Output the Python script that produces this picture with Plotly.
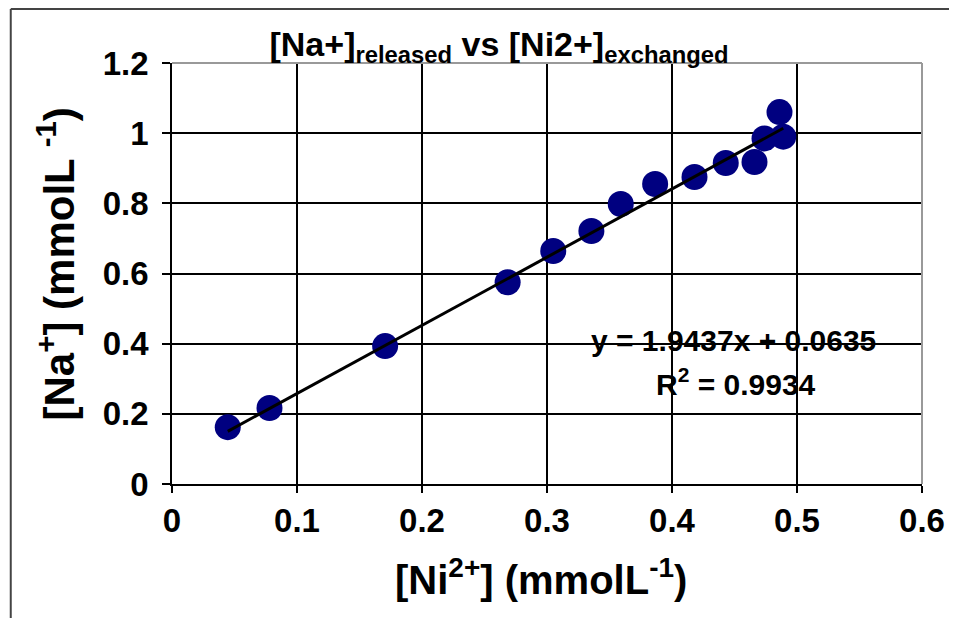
import plotly.graph_objects as go

ni_exchanged = [0.0446, 0.078, 0.1705, 0.2685, 0.305, 0.3355, 0.359, 0.3865, 0.418, 0.443, 0.466, 0.474, 0.486, 0.489]
na_released = [0.162, 0.2165, 0.393, 0.575, 0.664, 0.721, 0.798, 0.855, 0.875, 0.915, 0.918, 0.985, 1.06, 0.99]
slope = 1.9437
intercept = 0.0635
r_squared = 0.9934
x_ticks = [0, 0.1, 0.2, 0.3, 0.4, 0.5, 0.6]
y_ticks = [0, 0.2, 0.4, 0.6, 0.8, 1.0, 1.2]
y_tick_text = ["0", "0.2", "0.4", "0.6", "0.8", "1", "1.2"]

FONT = "Liberation Sans, Arial, sans-serif"

fit_x = [min(ni_exchanged), max(ni_exchanged)]
fit_y = [slope * v + intercept for v in fit_x]

fig = go.Figure()
fig.add_trace(go.Scatter(x=ni_exchanged, y=na_released, mode="markers",
                         marker=dict(size=26, color="#000080", line=dict(width=0)),
                         showlegend=False))
fig.add_trace(go.Scatter(x=fit_x, y=fit_y, mode="lines",
                         line=dict(color="black", width=3), showlegend=False))

fig.update_layout(
    width=949, height=610,
    margin=dict(l=164, r=28, t=55, b=134),
    paper_bgcolor="white", plot_bgcolor="white",
    title=dict(text="<b>[Na+]<sub>released</sub> vs [Ni2+]<sub>exchanged</sub></b>",
               x=(499 - 8) / 949, xanchor="center", y=1 - (44 - 8) / 610, yanchor="middle",
               font=dict(family=FONT, size=34, color="black")),
    xaxis=dict(range=[0, 0.6], tickvals=x_ticks, ticktext=[str(v) for v in x_ticks],
               showgrid=True, gridcolor="black", gridwidth=1.5,
               showline=True, linecolor="black", linewidth=1.5,
               ticks="outside", ticklen=7, tickcolor="black", tickwidth=1.5,
               ticklabelstandoff=0, zeroline=False,
               tickfont=dict(family=FONT, size=33, color="black", weight="bold")),
    yaxis=dict(range=[0, 1.2], tickvals=y_ticks, ticktext=y_tick_text,
               showgrid=True, gridcolor="black", gridwidth=1.5,
               showline=True, linecolor="black", linewidth=1.5,
               ticks="outside", ticklen=8, tickcolor="black", tickwidth=1.5,
               ticklabelstandoff=7, zeroline=False,
               tickfont=dict(family=FONT, size=33, color="black", weight="bold")),
    annotations=[
        dict(text="<b>[Na<sup>+</sup>] (mmolL <sup>-1</sup>)</b>", xref="paper", yref="paper",
             x=(56 - 172) / 753, y=(484 - 264) / 421, xanchor="center", yanchor="middle",
             textangle=-90, showarrow=False,
             font=dict(family=FONT, size=42, color="black")),
        dict(text="<b>[Ni<sup>2+</sup>] (mmolL<sup>-1</sup>)</b>", xref="paper", yref="paper",
             x=(542 - 172) / 753, y=(484 - 577) / 421, xanchor="center", yanchor="middle",
             showarrow=False,
             font=dict(family=FONT, size=40, color="black")),
        dict(text=f"<b>y = {slope}x + {intercept}</b>", xref="paper", yref="paper",
             x=(736 - 172) / 753, y=(484 - 340) / 421, xanchor="center", yanchor="middle",
             showarrow=False,
             font=dict(family=FONT, size=30, color="black")),
        dict(text=f"<b>R<sup>2</sup> = {r_squared}</b>", xref="paper", yref="paper",
             x=(738 - 172) / 753, y=(484 - 382) / 421, xanchor="center", yanchor="middle",
             showarrow=False,
             font=dict(family=FONT, size=30, color="black")),
    ],
    shapes=[
        dict(type="line", xref="paper", yref="paper", x0=0, x1=1, y0=1, y1=1,
             line=dict(color="#999999", width=2), layer="above"),
        dict(type="line", xref="paper", yref="paper", x0=1, x1=1, y0=0, y1=1,
             line=dict(color="#999999", width=2), layer="above"),
        dict(type="line", xref="paper", yref="paper", x0=-0.215, x1=1.1, y0=1.128, y1=1.128,
             line=dict(color="#444444", width=2)),
        dict(type="line", xref="paper", yref="paper", x0=-0.215, x1=-0.215, y0=-0.4, y1=1.128,
             line=dict(color="#444444", width=2)),
    ],
)

fig.write_html("out.html")
